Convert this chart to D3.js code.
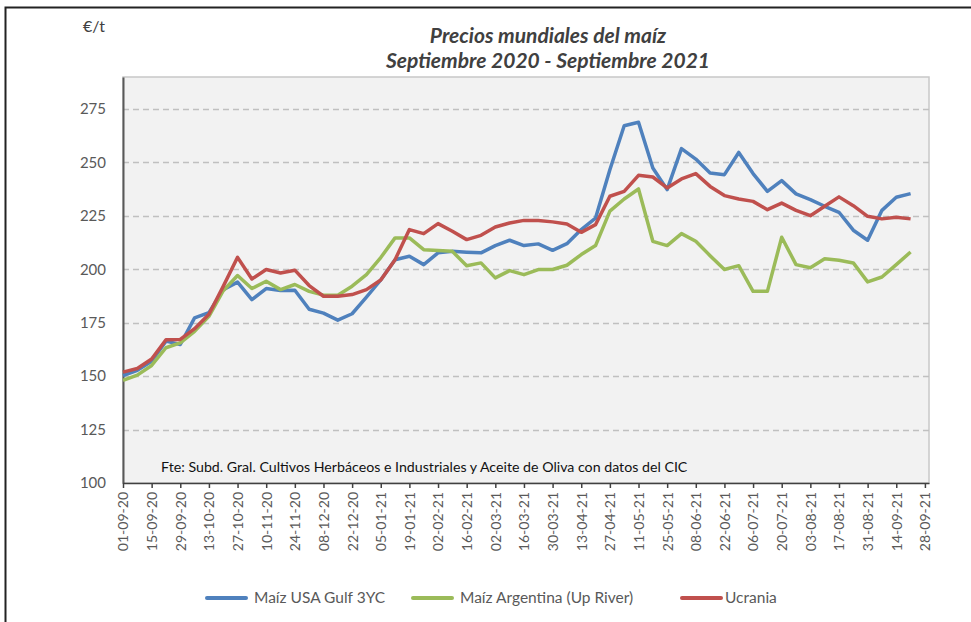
<!DOCTYPE html>
<html>
<head>
<meta charset="utf-8">
<title>Precios mundiales del maíz</title>
<script src="https://cdn.jsdelivr.net/npm/d3@7"></script>
<style>
  body { margin: 0; background: #fff; }
  text { font-family: Lato, "Open Sans", sans-serif; }
</style>
</head>
<body>
<div id="chart"></div>
<script>
// semanas (fechas de cotización)
const semanas = [
  "01-09-20","08-09-20","15-09-20","22-09-20","29-09-20","06-10-20","13-10-20","20-10-20",
  "27-10-20","03-11-20","10-11-20","17-11-20","24-11-20","01-12-20","08-12-20","15-12-20",
  "22-12-20","29-12-20","05-01-21","12-01-21","19-01-21","26-01-21","02-02-21","09-02-21",
  "16-02-21","23-02-21","02-03-21","09-03-21","16-03-21","23-03-21","30-03-21","06-04-21",
  "13-04-21","20-04-21","27-04-21","04-05-21","11-05-21","18-05-21","25-05-21","01-06-21",
  "08-06-21","15-06-21","22-06-21","29-06-21","06-07-21","13-07-21","20-07-21","27-07-21",
  "03-08-21","10-08-21","17-08-21","24-08-21","31-08-21","07-09-21","14-09-21","21-09-21"
];

const usaGulf = [
  150.3,152.7,157,166.4,164.8,177.3,179.7,190.5,194,185.8,191,190.1,190.2,181.3,179.5,176.2,
  179.2,187,195,204.5,206.1,202.2,207.7,208.4,208,207.7,211.1,213.6,211.1,211.9,208.9,212,
  218.6,224,246.6,267.2,268.8,247.4,237.3,256.5,251.6,245.1,244.3,254.7,244.8,236.5,241.5,235.3,
  232.6,229.5,226.7,218.3,213.6,227.6,233.7,235.4
];

const argentina = [
  148,150.5,155,163.3,165.6,171,178,190,197.1,191,194.4,190.5,192.9,189.7,187.9,187.9,
  192.1,197.5,205.5,214.7,214.7,209.2,208.8,208.4,201.7,203,196,199.4,197.5,199.9,199.9,201.9,
  206.9,211.1,227.2,232.9,237.6,213.1,211.1,216.7,213.1,206.4,199.9,201.7,189.7,189.7,215,202.2,
  200.7,204.9,204.2,203,194.1,196.4,202.2,208.1
];

const ucrania = [
  151.9,153.6,158,167,167.2,172.2,179,192,205.6,195.5,199.9,198.3,199.6,192.4,187.4,187.4,
  188.2,190.5,195,204.5,218.6,216.7,221.4,217.8,213.9,215.9,219.8,221.7,222.9,222.8,222.2,221.2,
  217.3,220.9,234.2,236.5,244,243.2,238.1,242.3,244.8,238.8,234.5,232.9,231.8,227.9,231,227.6,
  225.1,229.5,233.9,229.8,224.8,223.6,224.4,223.6
];

const etiquetasX = [
  "01-09-20","15-09-20","29-09-20","13-10-20","27-10-20","10-11-20","24-11-20","08-12-20",
  "22-12-20","05-01-21","19-01-21","02-02-21","16-02-21","02-03-21","16-03-21","30-03-21",
  "13-04-21","27-04-21","11-05-21","25-05-21","08-06-21","22-06-21","06-07-21","20-07-21",
  "03-08-21","17-08-21","31-08-21","14-09-21","28-09-21"
];
const ticksY = [100, 125, 150, 175, 200, 225, 250, 275];

const series = [
  {name: "Maíz USA Gulf 3YC", values: usaGulf, color: "#4f81bd"},
  {name: "Maíz Argentina (Up River)", values: argentina, color: "#9bbb59"},
  {name: "Ucrania", values: ucrania, color: "#c0504d"}
];

const parse = d3.timeParse("%d-%m-%y");

const W = 971, H = 622;
const margin = {top: 77, right: 42, bottom: 139, left: 123};
const w = W - margin.left - margin.right;
const h = H - margin.top - margin.bottom;

const svg = d3.select("#chart").append("svg")
  .attr("width", W).attr("height", H);

// marco exterior
svg.append("path")
  .attr("d", "M5.5," + H + "V7.5H" + W)
  .attr("fill", "none").attr("stroke", "#222").attr("stroke-width", 2);

const g = svg.append("g")
  .attr("transform", "translate(" + margin.left + "," + margin.top + ")");

const x = d3.scaleTime()
  .domain([parse("01-09-20"), parse("30-09-21")])
  .range([0, w]);
const y = d3.scaleLinear().domain([100, 290]).range([h, 0]);

g.append("rect").attr("width", w).attr("height", h)
  .attr("fill", "#f2f2f2").attr("stroke", "#c8c8c8").attr("stroke-width", 1.5);

// rejilla
g.selectAll(".grid").data(ticksY.slice(1)).enter().append("line")
  .attr("x1", 0).attr("x2", w)
  .attr("y1", d => Math.round(y(d)) + 0.5).attr("y2", d => Math.round(y(d)) + 0.5)
  .attr("stroke", "#c0c0c0").attr("stroke-width", 1.5)
  .attr("stroke-dasharray", "6,4");

// eje Y
const yAxis = d3.axisLeft(y).tickValues(ticksY).tickSize(0).tickPadding(17);
const gy = g.append("g").call(yAxis);
gy.select(".domain").attr("stroke", "#595959").attr("stroke-width", 2);
gy.selectAll("text").attr("fill", "#595959").style("font-size", "15px")
  .style("font-family", "Lato, sans-serif");

// eje X
const xAxis = d3.axisBottom(x)
  .tickValues(etiquetasX.map(parse))
  .tickFormat(d3.timeFormat("%d-%m-%y"))
  .tickSize(5).tickSizeOuter(0);
const gx = g.append("g").attr("transform", "translate(0," + h + ")").call(xAxis);
gx.select(".domain").attr("stroke", "#404040").attr("stroke-width", 1.5);
gx.selectAll("line").attr("stroke", "#404040").attr("stroke-width", 1.5);
gx.selectAll("text")
  .attr("fill", "#595959").style("font-size", "14px")
  .style("font-family", "Lato, sans-serif")
  .attr("transform", "rotate(-90)")
  .attr("text-anchor", "end")
  .attr("x", -9).attr("y", 0).attr("dy", "0.35em");

// líneas
const line = d3.line()
  .x((d, i) => x(parse(semanas[i])))
  .y(d => y(d));

g.selectAll(".serie").data(series).enter().append("path")
  .attr("fill", "none")
  .attr("stroke", d => d.color)
  .attr("stroke-width", 3.5)
  .attr("stroke-linejoin", "round")
  .attr("d", d => line(d.values));

// fuente
g.append("text")
  .attr("x", 38).attr("y", h - 11)
  .style("font-size", "14.2px").attr("fill", "#111")
  .text("Fte: Subd. Gral. Cultivos Herbáceos e Industriales  y Aceite de Oliva con datos del CIC");

// títulos
svg.append("text").attr("x", 548).attr("y", 43)
  .attr("text-anchor", "middle").style("font-size", "21px")
  .style("font-style", "italic").style("font-weight", "bold").attr("fill", "#404040")
  .text("Precios mundiales del maíz");
svg.append("text").attr("x", 548).attr("y", 68)
  .attr("text-anchor", "middle").style("font-size", "21px")
  .style("font-style", "italic").style("font-weight", "bold").attr("fill", "#404040")
  .text("Septiembre 2020 - Septiembre 2021");
svg.append("text").attr("x", 83).attr("y", 32)
  .style("font-size", "16px").attr("fill", "#404040").text("€/t");

// leyenda
const legX = [207, 413, 682];
const leg = svg.selectAll(".leg").data(series).enter().append("g")
  .attr("transform", (d, i) => "translate(" + legX[i] + ",598)");
leg.append("line").attr("x1", 0).attr("x2", 39)
  .attr("stroke", d => d.color).attr("stroke-width", 4).attr("stroke-linecap", "round");
leg.append("text").attr("x", (d, i) => i === 2 ? 43 : 47).attr("dy", "0.35em")
  .style("font-size", "15.5px").attr("fill", "#595959").text(d => d.name);
</script>
</body>
</html>
